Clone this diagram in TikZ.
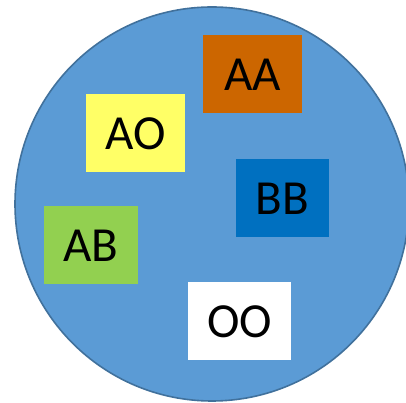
\documentclass[tikz,border=0pt]{standalone}
\usepackage{fontspec}
\setmainfont{Carlito}
\definecolor{discfill}{HTML}{5B9BD5}
\definecolor{discline}{HTML}{41719C}
\definecolor{cAA}{HTML}{CC6600}
\definecolor{cAO}{HTML}{FFFF66}
\definecolor{cBB}{HTML}{0070C0}
\definecolor{cAB}{HTML}{92D050}
\definecolor{cOO}{HTML}{FFFFFF}
\begin{document}
\begin{tikzpicture}[x=1pt,y=1pt,
  geno/.style={inner sep=0pt, font=\fontsize{49}{49}\selectfont, text=black}]
\useasboundingbox (0,0) rectangle (406,403);
\begin{scope}
  \clip (0,0) rectangle (406,403);
  \draw[fill=discfill, draw=discline, line width=1.6pt] (212,199) circle (197);
\end{scope}
% genotype boxes: corners in (x, 403-y)
\path[fill=cAA] (203,368) rectangle (302,290);
\node[geno] (aa) at (252.5,328.5) {AA};
\path[fill=cAO] (86,309) rectangle (185,231);
\node[geno] (ao) at (135.5,269.5) {AO};
\path[fill=cBB] (236,244) rectangle (329,166);
\node[geno] (bb) at (282.5,204.5) {BB};
\path[fill=cAB] (44,197) rectangle (138,119);
\node[geno] (ab) at (91,157.5) {AB};
\path[fill=cOO] (188,121) rectangle (291,43);
\node[geno] (oo) at (239.5,81.5) {OO};
\end{tikzpicture}
\end{document}
